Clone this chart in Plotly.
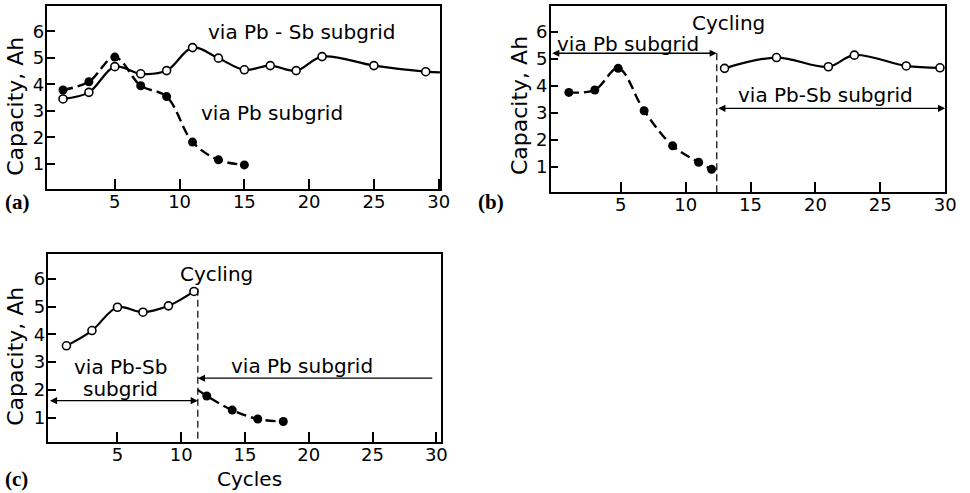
import plotly.graph_objects as go

W, H = 970, 493

# ---------------- data ----------------
# panel (a)
a_pbsb_x = [1, 3, 5, 7, 9, 11, 13, 15, 17, 19, 21, 25, 29]
a_pbsb_y = [3.45, 3.7, 4.67, 4.4, 4.52, 5.39, 4.99, 4.55, 4.71, 4.52, 5.05, 4.71, 4.48]
a_pbsb_tail = (30.1, 4.45)          # line continues to the frame edge
a_pb_x = [1, 3, 5, 7, 9, 11, 13, 15]
a_pb_y = [3.79, 4.1, 5.03, 3.95, 3.54, 1.82, 1.15, 0.96]

# panel (b)
b_pb_x = [1, 3, 4.8, 6.8, 9, 11, 12]
b_pb_y = [3.75, 3.84, 4.64, 3.07, 1.77, 1.16, 0.9]
b_pbsb_x = [13, 17, 21, 23, 27, 29.6]
b_pbsb_y = [4.64, 5.04, 4.7, 5.13, 4.73, 4.66]
b_switch = 12.4
b_arrow_pb_y = 5.2
b_arrow_pbsb_y = 3.16

# panel (c)
c_pbsb_x = [1, 3, 5, 7, 9, 11]
c_pbsb_y = [3.59, 4.14, 4.98, 4.8, 5.03, 5.55]
c_pb_lead = (11.3, 2.0)
c_pb_x = [12, 14, 16, 18]
c_pb_y = [1.78, 1.27, 0.95, 0.86]
c_switch = 11.3
c_arrow_pbsb_y = 1.61
c_arrow_pb_y = 2.42

x_ticks = [5, 10, 15, 20, 25, 30]
y_ticks = [1, 2, 3, 4, 5, 6]

# ---------------- layout helpers ----------------
def dom_x(l, r):
    return [l / W, r / W]

def dom_y(t, b):
    return [1 - b / H, 1 - t / H]

panels = {
    "a": dict(x=dom_x(48, 445), y=dom_y(6, 189), xr=[-0.2, 30.1], yr=[0.05, 6.96]),
    "b": dict(x=dom_x(557, 956), y=dom_y(6, 192), xr=[-0.4, 30.0], yr=[0.06, 6.95]),
    "c": dict(x=dom_x(49, 446), y=dom_y(254, 442), xr=[-0.41, 30.36], yr=[0.12, 6.9]),
}

FONT = "DejaVu Sans"
TXT = 20
TICK = 18
XTICKLEN = 10
YTICKLEN = 8

fig = go.Figure()

solid = dict(color="black", width=2.2, shape="spline")
dashed = dict(color="black", width=2.4, shape="spline", dash="10px,5px")
open_m = dict(symbol="circle", size=8, color="white", line=dict(color="black", width=1.6))
fill_m = dict(symbol="circle", size=9, color="black")

def add(xs, ys, ax, line=None, marker=None):
    mode = []
    if line:
        mode.append("lines")
    if marker:
        mode.append("markers")
    fig.add_trace(go.Scatter(x=xs, y=ys, mode="+".join(mode), line=line, marker=marker,
                             xaxis=ax[0], yaxis=ax[1], showlegend=False, hoverinfo="skip"))

A = ("x", "y")
B = ("x2", "y2")
C = ("x3", "y3")

# panel a
add(a_pb_x, a_pb_y, A, line=dashed)
add(a_pbsb_x + [a_pbsb_tail[0]], a_pbsb_y + [a_pbsb_tail[1]], A, line=solid)
add(a_pb_x, a_pb_y, A, marker=fill_m)
add(a_pbsb_x, a_pbsb_y, A, marker=open_m)

# panel b
add(b_pb_x, b_pb_y, B, line=dashed, marker=fill_m)
add(b_pbsb_x, b_pbsb_y, B, line=solid, marker=open_m)
add([b_switch, b_switch], [b_arrow_pb_y, panels["b"]["yr"][0]], B,
    line=dict(color="black", width=1.2, dash="7px,4px"))

# panel c
add(c_pbsb_x, c_pbsb_y, C, line=solid, marker=open_m)
add([c_pb_lead[0]] + c_pb_x, [c_pb_lead[1]] + c_pb_y, C, line=dashed)
add(c_pb_x, c_pb_y, C, marker=fill_m)
add([c_switch, c_switch], [5.65, panels["c"]["yr"][0]], C,
    line=dict(color="black", width=1.2, dash="7px,4px"))

axis_common = dict(showline=True, mirror=True, linecolor="black", linewidth=1.5,
                   ticks="inside", tickwidth=2, tickcolor="black",
                   showgrid=False, zeroline=False,
                   tickfont=dict(family=FONT, size=TICK, color="black"))

layout = dict(width=W, height=H, margin=dict(l=0, r=0, t=0, b=0),
              paper_bgcolor="white", plot_bgcolor="white")
for i, key in enumerate(["a", "b", "c"]):
    p = panels[key]
    sx = "" if i == 0 else str(i + 1)
    layout["xaxis" + sx] = dict(domain=p["x"], range=p["xr"], tickvals=x_ticks,
                                ticklen=XTICKLEN, tickmode="array", anchor="y" + sx,
                                ticklabelstandoff=-4, **axis_common)
    layout["yaxis" + sx] = dict(domain=p["y"], range=p["yr"], tickvals=y_ticks,
                                ticklen=YTICKLEN, tickmode="array", anchor="x" + sx,
                                ticklabelstandoff=-2, **axis_common)
fig.update_layout(**layout)

ann = []

def text_data(t, x, y, ax, size=TXT):
    ann.append(dict(text=t, x=x, y=y, xref=ax[0], yref=ax[1], showarrow=False,
                    xanchor="center", yanchor="middle",
                    font=dict(family=FONT, size=size, color="black")))

def text_px(t, px, py, size=TXT, angle=0, family=FONT, bold=False):
    ann.append(dict(text=("<b>%s</b>" % t) if bold else t, x=px / W, y=1 - py / H,
                    xref="paper", yref="paper", showarrow=False, textangle=angle,
                    xanchor="center", yanchor="middle",
                    font=dict(family=family, size=size, color="black")))

def arrow(x0, x1, y, ax, side):
    ann.append(dict(text="", x=x1, y=y, ax=x0, ay=y, xref=ax[0], yref=ax[1],
                    axref=ax[0], ayref=ax[1], showarrow=True, arrowhead=2,
                    arrowsize=1.1, arrowwidth=1.3, arrowcolor="black",
                    arrowside=side, standoff=0, startstandoff=0))

# panel a texts
text_data("via Pb - Sb subgrid", 19.4, 5.98, A)
text_data("via Pb subgrid", 17.1, 2.92, A)
text_px("(a)", 18, 202, size=21, family="Liberation Serif", bold=True)
text_px("Capacity, Ah", 15, 106, size=22, angle=-90)

# panel b texts
text_data("Cycling", 13.3, 6.32, B)
text_data("via Pb subgrid", 5.54, 5.56, B)
text_data("via Pb-Sb subgrid", 20.8, 3.64, B)
arrow(panels["b"]["xr"][0], b_switch, b_arrow_pb_y, B, "end+start")
arrow(b_switch, panels["b"]["xr"][1], b_arrow_pbsb_y, B, "end+start")
text_px("(b)", 497, 202, size=21, family="Liberation Serif", bold=True)
text_px("Capacity, Ah", 525, 106, size=22, angle=-90)

# panel c texts
text_data("Cycling", 12.8, 6.18, C)
text_data("via Pb-Sb", 5.25, 2.82, C)
text_data("subgrid", 5.25, 2.02, C)
text_data("via Pb subgrid", 19.5, 2.86, C)
arrow(panels["c"]["xr"][0], c_switch, c_arrow_pbsb_y, C, "end+start")
arrow(29.8, c_switch, c_arrow_pb_y, C, "end")
text_px("Cycles", 252.5, 479)
text_px("(c)", 17, 479, size=21, family="Liberation Serif", bold=True)
text_px("Capacity, Ah", 15, 356, size=22, angle=-90)

fig.update_layout(annotations=ann)
fig.write_html("out.html", config={"displayModeBar": False},
               post_script="document.body.style.margin='0px';document.body.style.padding='0px';")
